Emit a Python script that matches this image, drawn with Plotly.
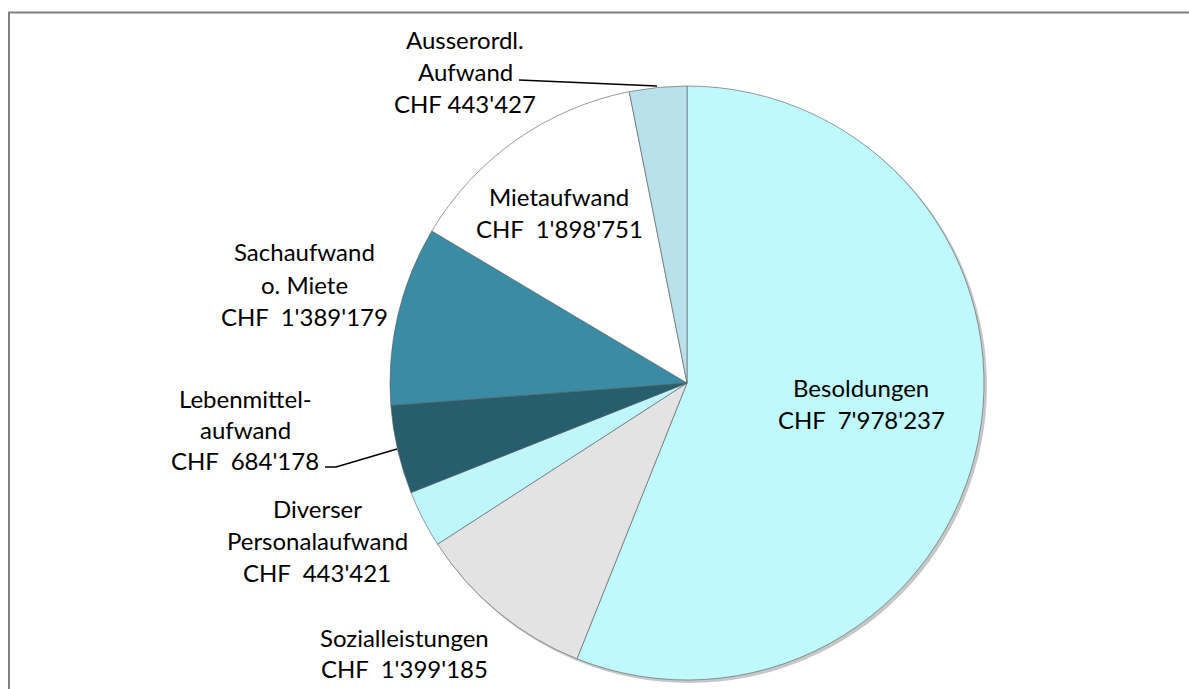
import plotly.graph_objects as go

W, H = 1189, 689

labels = ["Besoldungen", "Sozialleistungen", "Diverser Personalaufwand",
          "Lebenmittelaufwand", "Sachaufwand o. Miete", "Mietaufwand",
          "Ausserordl. Aufwand"]
values = [7978237, 1399185, 443421, 684178, 1389179, 1898751, 443427]
label_lines = [
    ["Besoldungen"],
    ["Sozialleistungen"],
    ["Diverser", "Personalaufwand"],
    ["Lebenmittel-", "aufwand"],
    ["Sachaufwand", "o. Miete"],
    ["Mietaufwand"],
    ["Ausserordl.", "Aufwand"],
]
chf_sep = ["\u00a0\u00a0", "\u00a0\u00a0", "\u00a0\u00a0", "\u00a0\u00a0", "\u00a0\u00a0", "\u00a0\u00a0", " "]
colors = ["#BFF9FC", "#E3E3E3", "#BFF6FB", "#265E6E", "#398CA4", "#FFFFFF", "#B8E1EB"]


def fmt(v):
    return f"{v:,}".replace(",", "'")


def px(x):
    return x / W


def py(y):
    return 1 - y / H


# pie geometry (page pixels)
cx, cy, r = 687, 383, 297

fig = go.Figure(go.Pie(
    labels=labels, values=values, sort=False, direction="clockwise",
    rotation=0, textinfo="none", hoverinfo="label+value",
    marker=dict(colors=colors, line=dict(color="rgba(90,90,90,0.6)", width=1)),
    domain=dict(x=[px(cx - r), px(cx + r)], y=[py(cy + r), py(cy - r)]),
    showlegend=False,
))

# label anchor (center of first line, pixels) and line spacing
label_pos = [(861, 387), (404, 637), (317, 508), (245, 398), (304, 252), (559, 197), (465, 40)]
spacing = [33, 31, 32, 31, 32.5, 31, 32]

annotations = []
for i, lines in enumerate(label_lines):
    x0, y0 = label_pos[i]
    all_lines = lines + ["CHF" + chf_sep[i] + fmt(values[i])]
    for j, t in enumerate(all_lines):
        annotations.append(dict(
            x=px(x0), y=py(y0 + j * spacing[i]), xref="paper", yref="paper",
            text=t, showarrow=False, xanchor="center", yanchor="middle",
            font=dict(family="Lato", size=24, color="#000000"),
        ))

shapes = [
    # soft shadow under the pie
    dict(type="circle", xref="paper", yref="paper", layer="below",
         x0=px(cx - r + 2), x1=px(cx + r + 3), y0=py(cy + r + 3), y1=py(cy - r + 2),
         fillcolor="rgba(0,0,0,0.22)", line=dict(width=0)),
    # chart frame (top and left edges)
    dict(type="line", xref="paper", yref="paper", x0=px(8), x1=px(1189), y0=py(12.5), y1=py(12.5),
         line=dict(color="#808080", width=2)),
    dict(type="line", xref="paper", yref="paper", x0=px(9), x1=px(9), y0=py(12), y1=py(689),
         line=dict(color="#808080", width=2)),
    # leader lines
    dict(type="line", xref="paper", yref="paper", x0=px(519), y0=py(80), x1=px(657), y1=py(86),
         line=dict(color="#000000", width=1.5)),
    dict(type="path", xref="paper", yref="paper",
         path=f"M {px(325)},{py(467)} L {px(336)},{py(467)} L {px(397)},{py(449)}",
         line=dict(color="#000000", width=1.5)),
]

fig.update_layout(
    width=W, height=H, margin=dict(l=0, r=0, t=0, b=0),
    paper_bgcolor="white", plot_bgcolor="white",
    annotations=annotations, shapes=shapes,
)

fig.write_html("out.html", config={"displayModeBar": False},
               post_script="document.body.style.margin='0';document.body.style.overflow='hidden';")
